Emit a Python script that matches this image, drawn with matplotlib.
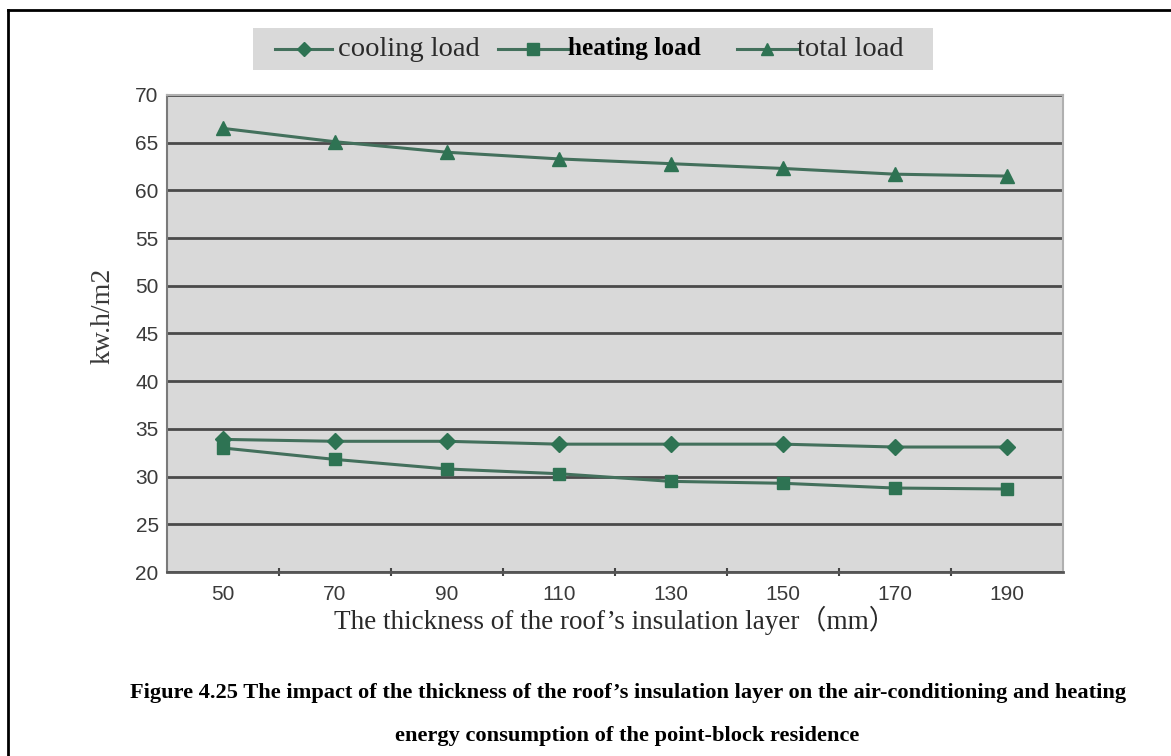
import numpy as np
import matplotlib
matplotlib.use("Agg")
import matplotlib.pyplot as plt
from matplotlib.lines import Line2D
from matplotlib.patches import Rectangle

# data
thickness = [50, 70, 90, 110, 130, 150, 170, 190]
cooling_load = [33.9, 33.7, 33.7, 33.4, 33.4, 33.4, 33.1, 33.1]
heating_load = [33.0, 31.8, 30.8, 30.3, 29.5, 29.3, 28.8, 28.7]
total_load = [66.5, 65.1, 64.0, 63.3, 62.8, 62.3, 61.7, 61.5]

series_names = ["cooling load", "heating load", "total load"]
y_ticks = [20, 25, 30, 35, 40, 45, 50, 55, 60, 65, 70]

SERIF = ["Liberation Serif", "Noto Sans CJK SC", "DejaVu Serif"]
SANS = ["Liberation Sans", "DejaVu Sans"]
line_col = "#43705c"
mark_col = "#2e7353"
W, H = 1171, 756

fig = plt.figure(figsize=(W / 100, H / 100), dpi=100)
ax = fig.add_axes([167 / W, 1 - 572 / H, (1063 - 167) / W, (572 - 95) / H])
ax.set_facecolor("#d9d9d9")

x = np.arange(len(thickness))
styles = [("D", 8), ("s", 9), ("^", 10)]
handles = []
for vals, name, (m, ms) in zip([cooling_load, heating_load, total_load], series_names, styles):
    h, = ax.plot(x, vals, color=line_col, lw=2.2, marker=m, ms=ms,
                 mfc=mark_col, mec=mark_col, label=name)
    handles.append(h)

ax.set_ylim(20, 70)
ax.set_yticks(y_ticks)
ax.set_xlim(-0.5, len(thickness) - 0.5)
ax.set_xticks(x)
ax.set_xticklabels([str(t) for t in thickness])
ax.set_xticks(np.arange(len(thickness) - 1) + 0.5, minor=True)
ax.tick_params(axis="x", which="major", length=0, pad=9)
ax.tick_params(axis="x", which="minor", length=6, width=1.5, direction="inout", color="#444444")
ax.tick_params(axis="y", length=0, pad=6)
for lab in ax.get_xticklabels() + ax.get_yticklabels():
    lab.set_family(SANS)
    lab.set_fontsize(15)
    lab.set_color("#3a3a3a")

ax.yaxis.grid(True, color="#4a4a4a", lw=2)
ax.set_axisbelow(True)
for side in ["top", "right"]:
    ax.spines[side].set_color("#b0b0b0")
    ax.spines[side].set_linewidth(1.5)
ax.spines["left"].set_color("#7a7a7a")
ax.spines["left"].set_linewidth(1.5)
ax.spines["bottom"].set_color("#555555")
ax.spines["bottom"].set_linewidth(2)

ax.set_ylabel("kw.h/m2", family=SERIF, fontsize=20, color="#3a3a3a", labelpad=0)
ax.yaxis.set_label_coords(-0.058, 0.537)
ax.set_xlabel("The thickness of the roof\u2019s insulation layer\uff08mm\uff09",
              family=SERIF, fontsize=19.5, color="#2a2a2a", labelpad=2)

# legend box above the plot, laid out by hand in pixel positions
fig.add_artist(Rectangle((253 / W, 1 - 70 / H), (933 - 253) / W, 42 / H,
                         transform=fig.transFigure, facecolor="#d9d9d9",
                         edgecolor="none", zorder=1))
leg_y = 1 - 49 / H
leg_items = [(275, 332, 338, "normal", 20.5), (498, 568, 568, "bold", 18.2),
             (737, 797, 797, "normal", 20.5)]
for h, (x0, x1, tx, wt, fs) in zip(handles, leg_items):
    fig.add_artist(Line2D([x0 / W, x1 / W], [leg_y, leg_y], color=line_col, lw=2.2,
                          transform=fig.transFigure, zorder=2))
    fig.add_artist(Line2D([(x0 + x1) / 2 / W], [leg_y], marker=h.get_marker(),
                          ms=h.get_markersize() - 1, color=mark_col,
                          transform=fig.transFigure, zorder=3))
    fig.text(tx / W, leg_y, h.get_label(), ha="left", va="center", family=SERIF,
             fontsize=fs, weight=wt, color="black" if wt == "bold" else "#2a2a2a",
             zorder=3)

fig.text(0.536, 1 - 693 / H, "Figure 4.25 The impact of the thickness of the roof\u2019s insulation layer "
         "on the air-conditioning and heating", ha="center", va="center",
         family=SERIF, fontsize=16.1, weight="bold")
fig.text(0.536, 1 - 736 / H, "energy consumption of the point-block residence",
         ha="center", va="center", family=SERIF, fontsize=16.1, weight="bold")

# page border: top and left edges
fig.add_artist(Line2D([0.007, 1.0], [0.987, 0.987], color="black", lw=2))
fig.add_artist(Line2D([0.007, 0.007], [0.0, 0.987], color="black", lw=2))

fig.savefig("out.png", dpi=100)
